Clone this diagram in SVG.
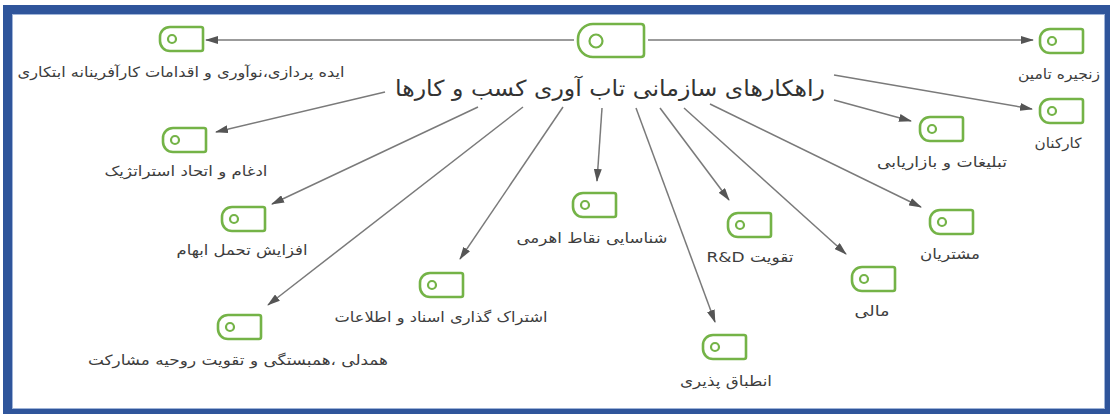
<svg xmlns="http://www.w3.org/2000/svg" width="1110" height="414" viewBox="0 0 1110 414">
  <style>
    .tag { fill: #ffffff; stroke: #74b347; stroke-width: 2.6; stroke-linejoin: round; }
    .dot { fill: none; stroke: #74b347; stroke-width: 2.2; }
    .lbl { font-family: "DejaVu Sans", "Noto Sans", sans-serif; font-size: 14px; fill: #3d3d3d; text-anchor: middle; direction: rtl; }
    .title { font-family: "DejaVu Sans", "Noto Sans", sans-serif; font-size: 22px; fill: #333333; text-anchor: middle; direction: rtl; }
    .edge { stroke: #7a7a7a; stroke-width: 1.5; fill: none; marker-end: url(#head); }
  </style>
  <defs>
    <marker id="head" viewBox="0 0 13 8" refX="12" refY="4" markerWidth="13" markerHeight="8" markerUnits="userSpaceOnUse" orient="auto">
      <path d="M0,0 L13,4 L0,8 Z" fill="#555555"/>
    </marker>
    <!-- small tag-shaped node, 43 x 24 -->
    <g id="tag">
      <path class="tag" d="M10,0 H41 Q43,0 43,2 V22 Q43,24 41,24 H10 A10,10 0 0 1 0,14 V10 A10,10 0 0 1 10,0 Z"/>
      <circle class="dot" cx="12" cy="12" r="4"/>
    </g>
  </defs>

  <rect width="1110" height="414" fill="#ffffff"/>
  <!-- frame -->
  <rect x="7.5" y="9.5" width="1102" height="404" fill="none" stroke="#2f559b" stroke-width="9"/>
  <rect x="12.5" y="14.5" width="1092" height="394" fill="none" stroke="#9fb4d8" stroke-width="1"/>

  <g id="connectors">
    <line class="edge" x1="574" y1="40" x2="206" y2="40"/>
    <line class="edge" x1="648" y1="40" x2="1033" y2="40"/>
    <line class="edge" x1="834" y1="75" x2="1032" y2="109"/>
    <line class="edge" x1="834" y1="100" x2="911" y2="121"/>
    <line class="edge" x1="710" y1="104" x2="921" y2="207"/>
    <line class="edge" x1="684" y1="108" x2="846" y2="254"/>
    <line class="edge" x1="660" y1="108" x2="729" y2="200"/>
    <line class="edge" x1="636" y1="108" x2="715" y2="322"/>
    <line class="edge" x1="602" y1="108" x2="597" y2="181"/>
    <line class="edge" x1="563" y1="107" x2="460" y2="259"/>
    <line class="edge" x1="523" y1="107" x2="268" y2="305"/>
    <line class="edge" x1="478" y1="107" x2="272" y2="204"/>
    <line class="edge" x1="385" y1="92" x2="216" y2="132"/>
  </g>

  <g id="root">
    <path class="tag" stroke-width="3.2" d="M593,24 H641 Q644,24 644,27 V54 Q644,57 641,57 H593 A15,15 0 0 1 578,42 V39 A15,15 0 0 1 593,24 Z"/>
    <circle class="dot" cx="596" cy="41" r="6.5" stroke-width="3"/>
    <text class="title" x="610" y="96" textLength="430" lengthAdjust="spacingAndGlyphs">راهکارهای سازمانی تاب آوری کسب و کارها</text>
  </g>

  <g id="n-ideation">
    <use href="#tag" x="160" y="27"/>
    <text class="lbl" x="181" y="77" textLength="327" lengthAdjust="spacingAndGlyphs">ایده پردازی،نوآوری و اقدامات کارآفرینانه ابتکاری</text>
  </g>
  <g id="n-supply">
    <use href="#tag" x="1040" y="29"/>
    <text class="lbl" x="1059" y="79" textLength="82" lengthAdjust="spacingAndGlyphs">زنجیره تامین</text>
  </g>
  <g id="n-staff">
    <use href="#tag" x="1040" y="99"/>
    <text class="lbl" x="1058" y="148" textLength="47" lengthAdjust="spacingAndGlyphs">کارکنان</text>
  </g>
  <g id="n-marketing">
    <use href="#tag" x="920" y="117"/>
    <text class="lbl" x="942" y="167" textLength="130" lengthAdjust="spacingAndGlyphs">تبلیغات و بازاریابی</text>
  </g>
  <g id="n-customers">
    <use href="#tag" x="930" y="210"/>
    <text class="lbl" x="950" y="259" textLength="60" lengthAdjust="spacingAndGlyphs">مشتریان</text>
  </g>
  <g id="n-finance">
    <use href="#tag" x="852" y="267"/>
    <text class="lbl" x="872" y="316" textLength="35" lengthAdjust="spacingAndGlyphs">مالی</text>
  </g>
  <g id="n-rnd">
    <use href="#tag" x="728" y="213"/>
    <text class="lbl" x="750" y="262" textLength="87" lengthAdjust="spacingAndGlyphs">تقویت R&amp;D</text>
  </g>
  <g id="n-adapt">
    <use href="#tag" x="703" y="335"/>
    <text class="lbl" x="726" y="386" textLength="92" lengthAdjust="spacingAndGlyphs">انطباق پذیری</text>
  </g>
  <g id="n-leverage">
    <use href="#tag" x="573" y="193"/>
    <text class="lbl" x="592" y="243" textLength="151" lengthAdjust="spacingAndGlyphs">شناسایی نقاط اهرمی</text>
  </g>
  <g id="n-sharing">
    <use href="#tag" x="420" y="273"/>
    <text class="lbl" x="441" y="322" textLength="213" lengthAdjust="spacingAndGlyphs">اشتراک گذاری اسناد و اطلاعات</text>
  </g>
  <g id="n-empathy">
    <use href="#tag" x="218" y="315"/>
    <text class="lbl" x="238" y="365" textLength="300" lengthAdjust="spacingAndGlyphs">همدلی ،همبستگی و تقویت روحیه مشارکت</text>
  </g>
  <g id="n-ambiguity">
    <use href="#tag" x="222" y="207"/>
    <text class="lbl" x="242" y="255" textLength="131" lengthAdjust="spacingAndGlyphs">افزایش تحمل ابهام</text>
  </g>
  <g id="n-merger">
    <use href="#tag" x="163" y="128"/>
    <text class="lbl" x="186" y="176" textLength="163" lengthAdjust="spacingAndGlyphs">ادغام و اتحاد استراتژیک</text>
  </g>
</svg>
